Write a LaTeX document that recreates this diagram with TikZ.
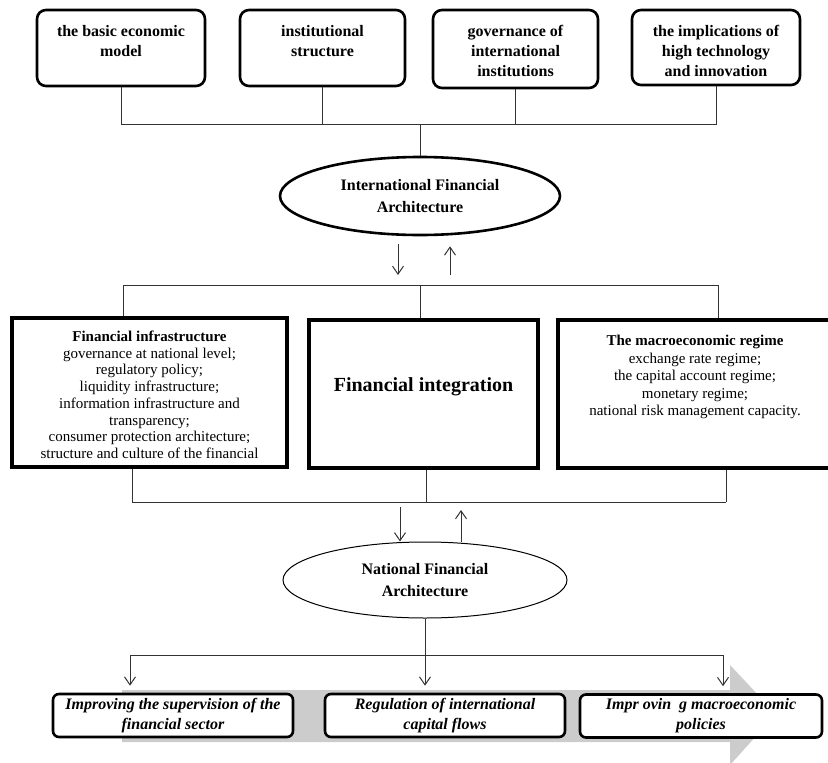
\documentclass[tikz,border=0pt]{standalone}
\usepackage{fontspec}
\setmainfont{Liberation Serif}
\usepackage{tikz}
\usetikzlibrary{shapes,arrows.meta}
\newcommand{\thinw}{1pt}
\newcommand{\boldw}{2.6pt}
\newcommand{\heavyw}{4.6pt}
% height, width, gap above the first line, text
\newcommand{\inbox}[4]{\parbox[t][#1][t]{#2}{\centering\vspace*{#3}#4}}

\begin{document}
\begin{tikzpicture}[x=1pt, y=-1pt]
                %\draw[help lines] (0,0) grid (828,763);
                \useasboundingbox (0,0) rectangle (828,763);
                \tikzset{
                    wire/.style = {draw=black!80, line width=\thinw},
                    arr/.style = {wire, -{Straight Barb[length=8pt,width=11pt]}},
                    topbox/.style = {draw, fill=white, rounded corners=9pt, line width=\boldw, inner sep=0pt,
                        font=\fontsize{16}{20}\selectfont\bfseries},
                    midbox/.style = {draw, fill=white, line width=\heavyw, inner sep=0pt,
                        font=\fontsize{15}{16.7}\selectfont},
                    arch/.style = {draw, ellipse, fill=white, inner sep=0pt, align=center,
                        font=\fontsize{16}{22}\selectfont\bfseries},
                    goal/.style = {draw, fill=white, rounded corners=6pt, line width=\boldw, inner sep=0pt,
                        minimum width=240pt, minimum height=43pt, align=center,
                        font=\fontsize{16}{20}\selectfont\bfseries\itshape}
                }

                % grey arrow behind the goals
                \fill[black!20] (122,690) -- (730,690) -- (730,665) -- (776,714) -- (730,765)
                    -- (730,742) -- (122,742) -- cycle;

                \node[topbox] (basic) at (121,48) {\inbox{76pt}{168pt}{15pt}{the basic economic\\ model}};
                \node[topbox] (inst) at (322.5,48) {\inbox{76pt}{165pt}{15pt}{institutional\\ structure}};
                \node[topbox] (gov) at (515.5,49) {\inbox{78pt}{165pt}{15pt}{governance of\\ international\\ institutions}};
                \node[topbox] (tech) at (716,47.5) {\inbox{75pt}{168pt}{15pt}{the implications of\\ high technology\\ and innovation}};

                \node[arch, line width=\boldw, minimum width=280pt, minimum height=78pt] (ifa) at (420,196)
                    {International Financial\\ Architecture};

                \node[midbox] (fininf) at (149.5,392.5) {\inbox{149pt}{275pt}{13pt}{\textbf{Financial infrastructure}\\
                    governance at national level;\\ regulatory policy;\\ liquidity infrastructure;\\
                    information infrastructure and\\ transparency;\\ consumer protection architecture;\\
                    structure and culture of the financial}};
                \node[midbox] (finint) at (423.5,394) {\inbox{148pt}{229pt}{58pt}{\fontsize{20}{24}\selectfont\bfseries Financial integration}};
                \node[midbox, font=\fontsize{15}{17.6}\selectfont] (macro) at (695,394) {\inbox{148pt}{274pt}{15pt}{\textbf{The macroeconomic regime}\\
                    exchange rate regime;\\ the capital account regime;\\ monetary regime;\\
                    national risk management capacity.}};

                \node[arch, line width=\thinw, minimum width=284pt, minimum height=76pt] (nfa) at (425,580)
                    {National Financial\\ Architecture};

                \node[goal] (impA) at (173,715.5) {Improving the supervision of the\\ financial sector};
                \node[goal] (regB) at (445,715.5) {Regulation of international\\ capital flows};
                \node[goal, minimum width=242pt] (polC) at (701,716) {Impr ovin\ \ g macroeconomic\\ policies};

                % upper bus
                \coordinate (topbus) at (421,124);
                \draw[wire] (basic.south) |- (tech.south |- topbus) -- (tech.south);
                \draw[wire] (inst.south) -- (inst.south |- topbus);
                \draw[wire] (gov.south) -- (gov.south |- topbus);
                \draw[wire] (ifa.north |- topbus) -- (ifa.north);

                % bus above the three blocks
                \coordinate (mbL) at (123,285);
                \coordinate (mbM) at (420,285);
                \coordinate (mbR) at (718,285);
                \draw[wire] (mbL) -- (mbR);
                \draw[wire] (mbL) -- (mbL |- fininf.north);
                \draw[wire] (mbM) -- (mbM |- finint.north);
                \draw[wire] (mbR) -- (mbR |- macro.north);
                \draw[arr] ([xshift=-22pt,yshift=-8pt]ifa.south) -- ([xshift=-22pt,yshift=10pt]ifa.south |- mbM);
                \draw[arr] ([xshift=30pt,yshift=10pt]ifa.south |- mbM) -- ([xshift=30pt,yshift=-10pt]ifa.south);

                % bus below the three blocks
                \coordinate (lbL) at (132,502);
                \coordinate (lbM) at (426,502);
                \coordinate (lbR) at (726,502);
                \draw[wire] (lbL) -- (lbR);
                \draw[wire] (lbL) -- (lbL |- fininf.south);
                \draw[wire] (lbM) -- (lbM |- finint.south);
                \draw[wire] (lbR) -- (lbR |- macro.south);
                \draw[arr] ([xshift=-26pt,yshift=-5pt]lbM) -- ([xshift=-26pt]lbM |- nfa.north);
                \draw[arr] ([xshift=35pt]lbM |- nfa.north) -- ([xshift=35pt,yshift=-8pt]lbM);

                % goals
                \coordinate (bbL) at (130,655);
                \coordinate (bbM) at (425,655);
                \coordinate (bbR) at (723,655);
                \draw[wire] (nfa.south) -- (nfa.south |- bbM);
                \draw[wire] (bbL) -- (bbR);
                \draw[arr] (bbL) -- ([yshift=7pt]bbL |- impA.north);
                \draw[arr] (bbM) -- ([yshift=7pt]bbM |- regB.north);
                \draw[arr] (bbR) -- ([yshift=7pt]bbR |- polC.north);
\end{tikzpicture}
\end{document}
